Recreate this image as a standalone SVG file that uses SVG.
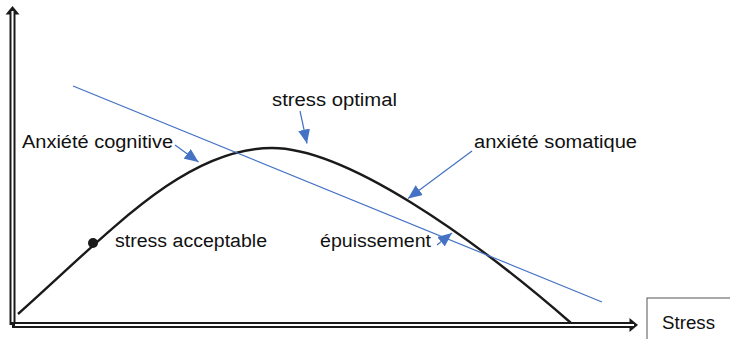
<svg xmlns="http://www.w3.org/2000/svg" width="730" height="339" viewBox="0 0 730 339">
<style>
text{font-family:"Liberation Sans",Arial,sans-serif;font-size:18px;fill:#111}
.blue{stroke:#4472C4;stroke-width:1.2;fill:none}
.ax{stroke:#1a1a1a;stroke-width:6;fill:none}
.axin{stroke:#fff;stroke-width:2;fill:none}
</style>
<defs>
<marker id="ah" markerUnits="userSpaceOnUse" markerWidth="16" markerHeight="12" refX="14" refY="6" orient="auto" viewBox="0 0 16 12">
<path d="M0,0 L14,6 L0,12 Z" fill="#4472C4"/>
</marker>
</defs>
<rect width="730" height="339" fill="#fff"/>
<g id="axes">
<line class="ax" x1="12.5" y1="13" x2="12.5" y2="325"/>
<polygon points="12.5,6 19.5,14.5 5.5,14.5" fill="#1a1a1a"/>
<line class="axin" x1="12.5" y1="11" x2="12.5" y2="322"/>
<line class="ax" x1="12" y1="325" x2="631" y2="325"/>
<polygon points="638,325 629.5,318 629.5,332" fill="#1a1a1a"/>
<line class="axin" x1="15" y1="325" x2="634" y2="325"/>
</g>
<g id="stress-box">
<rect x="647" y="298" width="100" height="60" fill="none" stroke="#555" stroke-width="1"/>
<text x="662" y="329" textLength="53" lengthAdjust="spacingAndGlyphs">Stress</text>
</g>
<g id="curve">
<path d="M18,314 C110,232 185,148 272,148 C345,148 470,235 571,323" fill="none" stroke="#1a1a1a" stroke-width="2.4"/>
<circle cx="93" cy="243" r="5" fill="#1a1a1a"/>
</g>
<g id="line">
<line class="blue" x1="73" y1="86" x2="602" y2="302"/>
</g>
<g id="connectors">
<line class="blue" x1="175" y1="145" x2="198.5" y2="162" marker-end="url(#ah)"/>
<line class="blue" x1="300" y1="111" x2="307" y2="143.5" marker-end="url(#ah)"/>
<line class="blue" x1="472" y1="151" x2="408" y2="198.5" marker-end="url(#ah)"/>
<line class="blue" x1="437" y1="245" x2="452" y2="233" marker-end="url(#ah)"/>
</g>
<g id="labels">
<text id="cognitive" x="22" y="148" textLength="151" lengthAdjust="spacingAndGlyphs">Anxiété cognitive</text>
<text id="optimal" x="272" y="106" textLength="125" lengthAdjust="spacingAndGlyphs">stress optimal</text>
<text id="somatique" x="474" y="148" textLength="163" lengthAdjust="spacingAndGlyphs">anxiété somatique</text>
<text id="acceptable" x="115" y="247" textLength="152" lengthAdjust="spacingAndGlyphs">stress acceptable</text>
<text id="epuisement" x="320" y="247" textLength="111" lengthAdjust="spacingAndGlyphs">épuissement</text>
</g>
</svg>
